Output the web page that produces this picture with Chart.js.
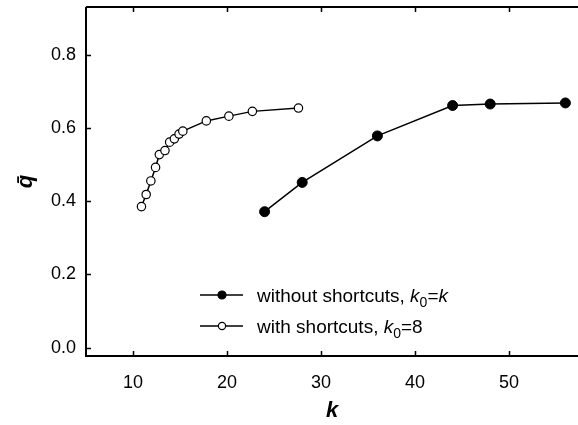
<!DOCTYPE html>
<html>
<head>
<meta charset="utf-8">
<script src="https://cdn.jsdelivr.net/npm/chart.js@4/dist/chart.umd.min.js"></script>
<style>
  html, body { margin: 0; padding: 0; background: #fff; }
  #wrap { width: 578px; height: 425px; }
</style>
</head>
<body>
<div id="wrap"><canvas id="c" width="578" height="425"></canvas></div>
<script>
// ---- data ----
const kWithout = [24, 28, 36, 44, 48, 56];
const qWithout = [0.371, 0.451, 0.578, 0.661, 0.665, 0.668];
const kWith = [10.9, 11.4, 11.9, 12.4, 12.8, 13.4, 13.9, 14.4, 14.9, 15.3, 17.8, 20.2, 22.7, 27.6];
const qWith = [0.385, 0.418, 0.455, 0.492, 0.527, 0.538, 0.561, 0.570, 0.583, 0.591, 0.619, 0.632, 0.645, 0.654];
const xTicks = [10, 20, 30, 40, 50];
const yTicks = [0.0, 0.2, 0.4, 0.6, 0.8];
const seriesNames = ['without shortcuts, ', 'with shortcuts, '];

const FONT = 'Arial, "Liberation Sans", sans-serif';

function pts(xs, ys) { return xs.map((x, i) => ({ x: x, y: ys[i] })); }

const frame = {
  id: 'frame',
  afterDraw(chart) {
    const ctx = chart.ctx, a = chart.chartArea;
    const xs = chart.scales.x, ys = chart.scales.y;
    ctx.save();
    ctx.strokeStyle = '#000';
    ctx.lineWidth = 2;
    ctx.beginPath();
    ctx.moveTo(a.left, a.top); ctx.lineTo(a.left, a.bottom);
    ctx.lineTo(a.right + 2, a.bottom);
    ctx.moveTo(a.left, a.top); ctx.lineTo(a.right + 2, a.top);
    ctx.stroke();
    ctx.lineWidth = 1.5;
    ctx.beginPath();
    xTicks.forEach(v => {
      const px = Math.round(xs.getPixelForValue(v)) + 0.5;
      ctx.moveTo(px, a.bottom); ctx.lineTo(px, a.bottom - 5);
      ctx.moveTo(px, a.top); ctx.lineTo(px, a.top + 5);
    });
    yTicks.forEach(v => {
      const py = Math.round(ys.getPixelForValue(v)) + 0.5;
      ctx.moveTo(a.left, py); ctx.lineTo(a.left + 5, py);
    });
    ctx.stroke();
    ctx.restore();
  }
};

const legend = {
  id: 'customLegend',
  afterDraw(chart) {
    const ctx = chart.ctx;
    const rows = [
      { y: 295, filled: true, tail: 'k', r: 4 },
      { y: 326, filled: false, tail: '8', r: 3.6 }
    ];
    ctx.save();
    rows.forEach((row, i) => {
      ctx.strokeStyle = '#000';
      ctx.lineWidth = 1.5;
      ctx.beginPath();
      ctx.moveTo(200, row.y); ctx.lineTo(243, row.y);
      ctx.stroke();
      ctx.beginPath();
      ctx.arc(222, row.y, row.r, 0, Math.PI * 2);
      ctx.fillStyle = row.filled ? '#000' : '#fff';
      ctx.fill();
      ctx.lineWidth = 1.2;
      ctx.stroke();
      ctx.fillStyle = '#000';
      ctx.textBaseline = 'alphabetic';
      const base = row.y + 7;
      let x = 257;
      ctx.font = '19px ' + FONT;
      ctx.fillText(seriesNames[i], x, base);
      x += ctx.measureText(seriesNames[i]).width;
      ctx.font = 'italic 19px ' + FONT;
      ctx.fillText('k', x, base);
      x += ctx.measureText('k').width;
      ctx.font = '14px ' + FONT;
      ctx.fillText('0', x, base + 5);
      x += ctx.measureText('0').width;
      ctx.font = '19px ' + FONT;
      ctx.fillText('=', x, base);
      x += ctx.measureText('=').width;
      ctx.font = (row.tail === 'k' ? 'italic ' : '') + '19px ' + FONT;
      ctx.fillText(row.tail, x, base);
    });
    ctx.restore();
  }
};

new Chart(document.getElementById('c'), {
  type: 'scatter',
  data: {
    datasets: [
      {
        label: 'without shortcuts',
        data: pts(kWithout, qWithout),
        showLine: true,
        borderColor: '#000',
        borderWidth: 1.5,
        pointRadius: 5,
        pointBackgroundColor: '#000',
        pointBorderColor: '#000',
        pointBorderWidth: 1,
        clip: false
      },
      {
        label: 'with shortcuts',
        data: pts(kWith, qWith),
        showLine: true,
        borderColor: '#000',
        borderWidth: 1.5,
        pointRadius: 4.2,
        pointBackgroundColor: '#fff',
        pointBorderColor: '#000',
        pointBorderWidth: 1.2,
        clip: false
      }
    ]
  },
  options: {
    responsive: false,
    animation: false,
    devicePixelRatio: 1,
    layout: { autoPadding: false, padding: { top: 7, right: 0, left: 0, bottom: 0 } },
    plugins: { legend: { display: false }, tooltip: { enabled: false } },
    scales: {
      x: {
        type: 'linear',
        min: 5, max: 57.34,
        afterBuildTicks(s) { s.ticks = xTicks.map(v => ({ value: v })); },
        afterFit(s) { s.height = 69; s.paddingLeft = 0; s.paddingRight = 0; },
        grid: { display: false, drawTicks: false },
        border: { display: false },
        ticks: { color: '#000', font: { family: FONT, size: 18 }, padding: 16, maxRotation: 0, callback: v => String(v) },
        title: { display: true, text: 'k', color: '#000', font: { family: FONT, size: 22, weight: 'bold', style: 'italic' }, padding: { top: 0, bottom: 1 } }
      },
      y: {
        type: 'linear',
        min: -0.023, max: 0.93,
        afterBuildTicks(s) { s.ticks = yTicks.map(v => ({ value: v })); },
        afterFit(s) { s.width = 86; s.paddingTop = 0; s.paddingBottom = 0; },
        grid: { display: false, drawTicks: false },
        border: { display: false },
        ticks: { color: '#000', font: { family: FONT, size: 18 }, padding: 10, callback: v => Number(v).toFixed(1) },
        title: { display: true, text: 'q\u0304', color: '#000', font: { family: FONT, size: 22, weight: 'bold', style: 'italic' }, padding: { top: 13, bottom: 0 } }
      }
    }
  },
  plugins: [frame, legend]
});
</script>
</body>
</html>
